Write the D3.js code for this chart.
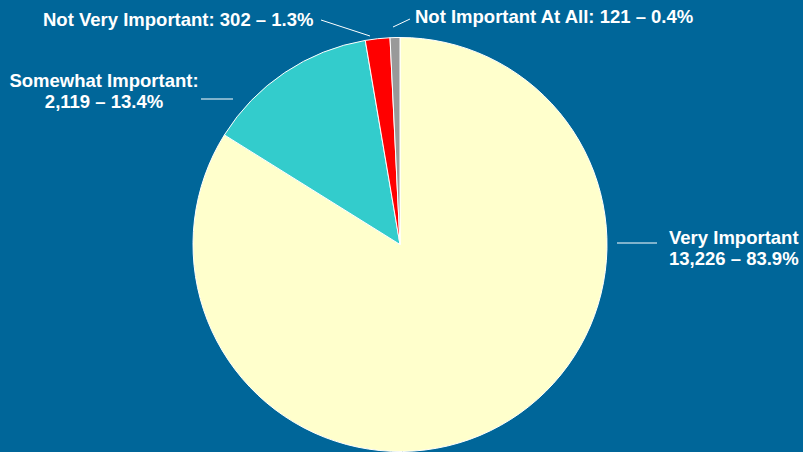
<!DOCTYPE html>
<html><head><meta charset="utf-8">
<script src="https://cdn.jsdelivr.net/npm/d3@7/dist/d3.min.js"></script>
<style>html,body{margin:0;padding:0;background:#006699;}svg{display:block;}</style>
</head><body>
<svg id="c" width="803" height="452"></svg>
<script>
const categories = ["Very Important", "Somewhat Important", "Not Very Important", "Not Important At All"];
const counts = [13226, 2119, 302, 121];
const percents = ["83.9%", "13.4%", "1.3%", "0.4%"];
const colors = ["#FFFFCC", "#33CCCC", "#FF0000", "#999999"];

const svg = d3.select("#c");
const cx = 400, cy = 244.5, r = 207;
const g = svg.append("g").attr("transform", `translate(${cx},${cy})`);
const pie = d3.pie().sort(null).value(d => d.v);
const data = categories.map((c, i) => ({c, v: counts[i], p: percents[i], col: colors[i]}));
const arc = d3.arc().innerRadius(0).outerRadius(r);
g.selectAll("path").data(pie(data)).join("path")
  .attr("d", arc).attr("fill", d => d.data.col)
  .attr("stroke", "#ffffff").attr("stroke-width", 1);

const fmt = d3.format(",");
const layouts = [
  {lines: [categories[0], `${fmt(counts[0])} – ${percents[0]}`], x: 669, y: 244, anchor: "start", leader: [[617, 243], [657, 243]]},
  {lines: [categories[1] + ":", `${fmt(counts[1])} – ${percents[1]}`], x: 104, y: 87, anchor: "middle", leader: [[201, 99], [233, 99]]},
  {lines: [`${categories[2]}: ${fmt(counts[2])} – ${percents[2]}`], x: 43, y: 26, anchor: "start", leader: [[321, 20], [370, 36]]},
  {lines: [`${categories[3]}: ${fmt(counts[3])} – ${percents[3]}`], x: 415, y: 23, anchor: "start", leader: [[393, 27], [410, 19]]}
];
layouts.forEach(L => {
  svg.append("line").attr("x1", L.leader[0][0]).attr("y1", L.leader[0][1])
    .attr("x2", L.leader[1][0]).attr("y2", L.leader[1][1])
    .attr("stroke", "#ffffff").attr("stroke-width", 1);
  const t = svg.append("text").attr("x", L.x).attr("y", L.y)
    .attr("text-anchor", L.anchor).attr("fill", "#ffffff")
    .style("font-family", "'Liberation Sans', Arial, sans-serif")
    .style("font-weight", "bold").style("font-size", "18.5px");
  L.lines.forEach((s, i) => t.append("tspan").attr("x", L.x).attr("dy", i === 0 ? 0 : 21).text(s));
});
</script>
</body></html>
